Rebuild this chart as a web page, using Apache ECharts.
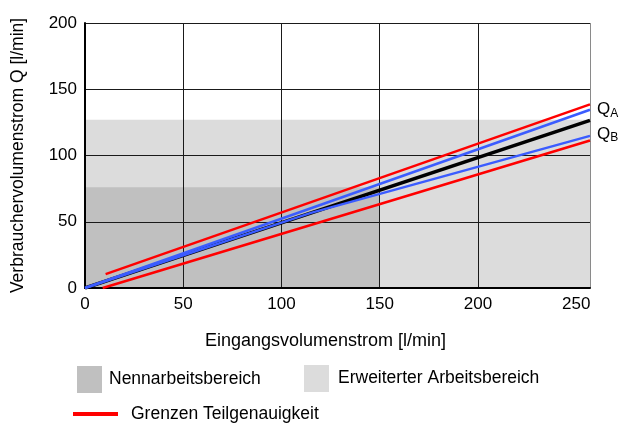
<!DOCTYPE html>
<html>
<head>
<meta charset="utf-8">
<script src="https://cdn.jsdelivr.net/npm/echarts@6/dist/echarts.min.js"></script>
<style>html,body{margin:0;padding:0;background:#fff;}#c{width:624px;height:424px;}</style>
</head>
<body>
<div id="c"></div>
<script>
// Axis setup
var xMax = 257;
var yTicks = [0, 50, 100, 150, 200];
// Shaded working ranges [x, y]
var nennBereich = [[0, 76], [150, 76]];
var erwBereich = [[0, 127], [257, 127]];
// Curves [Eingangsvolumenstrom, Verbrauchervolumenstrom]
var qMitte = [[0, 0], [257, 126.5]];
var qA = [[0, 0], [257, 134.5]];
var qB = [[0, 0], [115, 56.7], [257, 114.8]];
var grenzeOben = [[10.5, 10.5], [257, 138.6]];
var grenzeUnten = [[9, 0], [257, 111.3]];

var FONT = 'Liberation Sans, Arial, Helvetica, sans-serif';
var RED = '#ff0000', BLUE = '#3b5cff', DARK = '#c0c0c0', LIGHT = '#dcdcdc';
var FS = 17.5, TFS = 17;

var chart = echarts.init(document.getElementById('c'));
function qLabel(sub, off) {
  return {
    show: true, distance: 7, offset: [0, off],
    formatter: '{q|Q}{s|' + sub + '}',
    rich: {
      q: {fontSize: 17, lineHeight: 20, color: '#000', fontFamily: FONT},
      s: {fontSize: 12, lineHeight: 12, padding: [8, 0, 0, 0], color: '#000', fontFamily: FONT}
    }
  };
}
chart.setOption({
  animation: false,
  backgroundColor: '#fff',
  textStyle: {fontFamily: FONT},
  grid: {left: 85, right: 34, top: 23, bottom: 136, containLabel: false, outerBoundsMode: 'none'},
  legend: [
    {left: 77, top: 366, padding: 0, orient: 'horizontal', selectedMode: false, itemWidth: 25, itemHeight: 27,
     textStyle: {fontSize: FS, color: '#000', fontFamily: FONT, padding: [0, 0, 0, 2]},
     data: [{name: 'Nennarbeitsbereich', icon: 'rect', itemStyle: {color: DARK, borderWidth: 0}}]},
    {left: 304, top: 365, padding: 0, orient: 'horizontal', selectedMode: false, itemWidth: 25, itemHeight: 27,
     textStyle: {fontSize: FS, color: '#000', fontFamily: FONT, padding: [0, 0, 0, 4]},
     data: [{name: 'Erweiterter Arbeitsbereich', icon: 'rect', itemStyle: {color: LIGHT, borderWidth: 0}}]},
    {left: 73, top: 405, padding: 0, orient: 'horizontal', selectedMode: false, itemWidth: 45, itemHeight: 4,
     textStyle: {fontSize: FS, color: '#000', fontFamily: FONT, padding: [0, 0, 0, 8]},
     data: [{name: 'Grenzen Teilgenauigkeit', icon: 'rect', itemStyle: {color: RED, borderWidth: 0}}]}
  ],
  xAxis: {
    type: 'value', min: 0, max: xMax, interval: 50, z: 1,
    name: 'Eingangsvolumenstrom [l/min]', nameLocation: 'middle', nameGap: 44,
    nameTextStyle: {fontSize: 18, color: '#000', fontFamily: FONT, padding: [0, 24, 0, 0]},
    axisLine: {show: true, onZero: false, lineStyle: {color: '#000', width: 2}},
    axisTick: {show: false},
    axisLabel: {fontSize: TFS, color: '#000', margin: 8, fontFamily: FONT,
      formatter: function (v) { return v % 50 === 0 ? String(v) : ''; }},
    splitLine: {show: true, lineStyle: {width: 1,
      color: ['#1a1a1a', '#1a1a1a', '#1a1a1a', '#1a1a1a', '#1a1a1a', 'rgba(0,0,0,0)', '#8a8a8a']}}
  },
  yAxis: {
    type: 'value', min: yTicks[0], max: yTicks[yTicks.length - 1], interval: 50, z: 1,
    name: 'Verbrauchervolumenstrom Q [l/min]', nameLocation: 'middle', nameGap: 58,
    nameTextStyle: {fontSize: FS, color: '#000', fontFamily: FONT},
    axisLine: {show: true, onZero: false, lineStyle: {color: '#000', width: 2}},
    axisTick: {show: false},
    axisLabel: {fontSize: TFS, color: '#000', margin: 8, fontFamily: FONT},
    splitLine: {show: true, lineStyle: {color: '#1a1a1a', width: 1}}
  },
  series: [
    {name: 'Erweiterter Arbeitsbereich', type: 'line', z: 0, data: erwBereich, symbol: 'none', silent: true,
     color: LIGHT, lineStyle: {width: 0}, areaStyle: {color: LIGHT, opacity: 1}},
    {name: 'Nennarbeitsbereich', type: 'line', z: 0, data: nennBereich, symbol: 'none', silent: true,
     color: DARK, lineStyle: {width: 0}, areaStyle: {color: DARK, opacity: 1}},
    {name: 'Q', type: 'line', z: 2, data: qMitte, symbol: 'none', color: '#000',
     lineStyle: {color: '#000', width: 3.5}},
    {name: 'QB', type: 'line', z: 3, data: qB, symbol: 'none', color: BLUE,
     lineStyle: {color: BLUE, width: 2.5}, endLabel: qLabel('B', -2)},
    {name: 'QA', type: 'line', z: 3, data: qA, symbol: 'none', color: BLUE,
     lineStyle: {color: BLUE, width: 2.5}, endLabel: qLabel('A', 0)},
    {name: 'Grenzen Teilgenauigkeit', type: 'line', z: 4, data: grenzeOben, symbol: 'none', color: RED,
     lineStyle: {color: RED, width: 2.5}},
    {name: 'Grenzen Teilgenauigkeit', type: 'line', z: 4, data: grenzeUnten, symbol: 'none', color: RED,
     lineStyle: {color: RED, width: 2.5}}
  ]
});
</script>
</body>
</html>
